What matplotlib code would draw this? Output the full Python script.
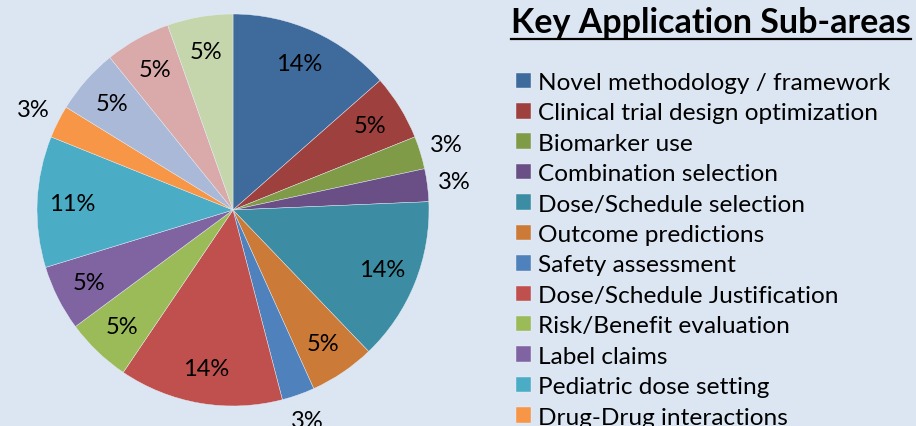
import numpy as np
import matplotlib
matplotlib.use('Agg')
from matplotlib import pyplot as plt
from matplotlib.lines import Line2D

plt.rcParams['font.family'] = ['Lato', 'DejaVu Sans']

# число работ в каждой под-области (всего 37)
labels = ['Novel methodology / framework', 'Clinical trial design optimization',
          'Biomarker use', 'Combination selection', 'Dose/Schedule selection',
          'Outcome predictions', 'Safety assessment', 'Dose/Schedule Justification',
          'Risk/Benefit evaluation', 'Label claims', 'Pediatric dose setting',
          'Drug-Drug interactions', 'Other 1', 'Other 2', 'Other 3']
counts = [5, 2, 1, 1, 5, 2, 1, 5, 2, 2, 4, 1, 2, 2, 2]
colors = ['#3F6A9C', '#9E413E', '#7F9B48', '#6A4F86', '#3C8DA3', '#CC7A37',
          '#4F81BD', '#C0504D', '#9BBB59', '#8064A2', '#4BACC6', '#F79646',
          '#AAB9D7', '#D9AAA9', '#C6D6AC']
n_legend = 12  # в исходной картинке легенда обрезана снизу

bg = '#DCE6F2'
fig = plt.figure(figsize=(9.16, 4.27), dpi=100, facecolor=bg)
ax = fig.add_axes([37 / 916, 20 / 427, 392 / 916, 392 / 427])
ax.set_facecolor(bg)

wedges, texts, autotexts = ax.pie(counts, colors=colors, startangle=90, counterclock=False,
                                  autopct='%.0f%%', pctdistance=0.82,
                                  wedgeprops=dict(linewidth=0.3, edgecolor='#E8EEF6'),
                                  textprops=dict(fontsize=17, color='black'))
ax.set_xlim(-1, 1)
ax.set_ylim(-1, 1)
ax.set_aspect('equal')
ax.axis('off')

# маленькие сектора - подписи снаружи
for w, t, c in zip(wedges, autotexts, counts):
    if c == 1:
        a = np.deg2rad((w.theta1 + w.theta2) / 2)
        t.set_position((1.14 * np.cos(a), 1.14 * np.sin(a)))
        t.set_clip_on(False)

title = fig.text(511 / 916, 1 - 33 / 427, 'Key Application Sub-areas', fontsize=24.5,
                 fontweight='bold', ha='left', va='baseline')

leg = fig.legend(wedges[:n_legend], labels[:n_legend], loc='upper left',
                 bbox_to_anchor=(516 / 916, 1 - 73 / 427), frameon=False,
                 fontsize=17.6, handlelength=0.6, handleheight=0.6, handletextpad=0.3,
                 labelspacing=0.385, borderpad=0, borderaxespad=0)

# подчеркивание заголовка
fig.canvas.draw()
bb = title.get_window_extent()
y = (bb.y0 - 1) / fig.bbox.height
fig.add_artist(Line2D([bb.x0 / fig.bbox.width, bb.x1 / fig.bbox.width], [y, y],
                      color='black', linewidth=1.6, transform=fig.transFigure))

plt.savefig('out.png', dpi=100, facecolor=bg)
